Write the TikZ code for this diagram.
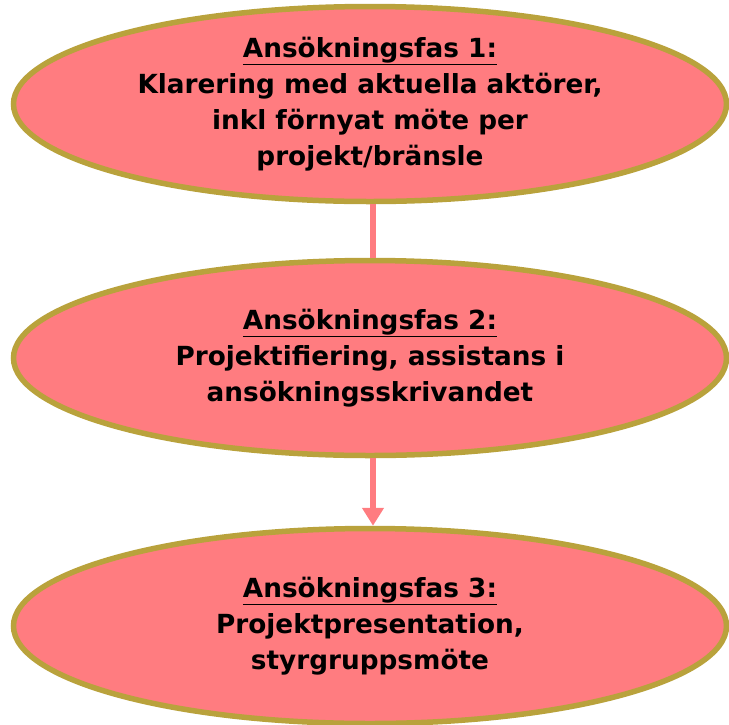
\documentclass[tikz,border=0pt]{standalone}
\usepackage{fontspec}
\setmainfont{DejaVu Sans}
\usetikzlibrary{shapes.geometric, arrows.meta, positioning}
\definecolor{rosefill}{RGB}{255,124,128}
\definecolor{olivedraw}{RGB}{185,162,60}

\begin{document}
\begin{tikzpicture}[x=1pt,y=-1pt,>={Triangle[length=18pt,width=21pt]},
        phase/.style={ellipse, draw=olivedraw, fill=rosefill, line width=5.5pt,
          minimum width=713pt, minimum height=195pt, inner sep=0pt, align=center,
          font=\bfseries\fontsize{26.3}{36}\selectfont},
        link/.style={draw=rosefill, line width=6pt}]
    \useasboundingbox (0,0) rectangle (729,724);

      \node[phase] (fas1) at (370,104) {\underline{Ansökningsfas 1:}\\Klarering med aktuella aktörer,\\inkl förnyat möte per\\projekt/bränsle};
      \node[phase] (fas2) at (370,358) {\underline{Ansökningsfas 2:}\\Projektifiering, assistans i\\ansökningsskrivandet};
      \node[phase] (fas3) at (370,626) {\underline{Ansökningsfas 3:}\\Projektpresentation,\\styrgruppsmöte};

      \path[link] ([xshift=3pt]fas1.south) -- ([xshift=3pt]fas2.north);
      \path[link,->,fill=rosefill] ([xshift=3pt]fas2.south) -- ([xshift=3pt]fas3.north);
    \end{tikzpicture}
\end{document}
